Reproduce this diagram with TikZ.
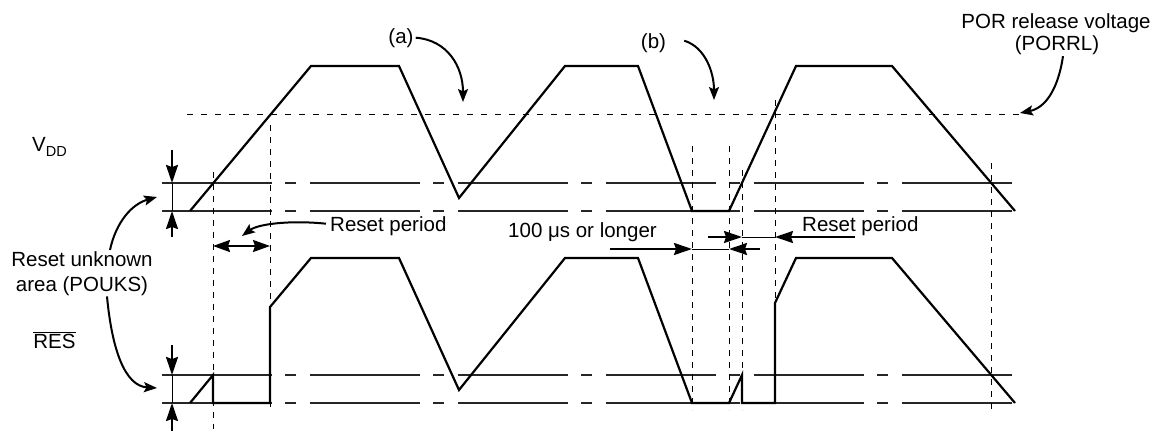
\documentclass[tikz,border=0pt]{standalone}
\usepackage{fontspec}
\setmainfont{Liberation Sans}
\usetikzlibrary{arrows.meta}
\begin{document}
\begin{tikzpicture}[x=1pt,y=-1pt,
  wave/.style={line width=2.2pt, line join=miter},
  chain/.style={line width=1.1pt, black!85, dash pattern=on 110pt off 13pt on 11pt off 14pt},
  vdash/.style={line width=1pt, dash pattern=on 6pt off 6pt},
  pdash/.style={line width=1pt, dash pattern=on 6pt off 8pt},
  bigarr/.style={line width=2pt, -{Stealth[length=18pt,width=12pt,inset=2pt]}},
  bigboth/.style={line width=2pt, {Stealth[length=17pt,width=12pt,inset=2pt]}-{Stealth[length=17pt,width=12pt,inset=2pt]}},
  curv/.style={line width=2pt, -{Stealth[length=13pt,width=10pt,inset=2.5pt]}},
  thinl/.style={line width=1pt},
  lbl/.style={inner sep=0pt, font=\fontsize{20.5}{25}\selectfont}]
\useasboundingbox (0,0) rectangle (1159,431);

% chain lines
\draw[chain] (162,183) -- (1015,183);
\draw[chain] (162,211) -- (1015,211);
\draw[chain] (162,375) -- (1015,375);
\draw[chain] (162,403) -- (1015,403);

% PORRL dashed line
\draw[pdash] (187,114) -- (1020,114);

% vertical dashed lines
\draw[vdash] (213,172) -- (213,429);
\draw[vdash] (270,125) -- (270,408);
\draw[vdash] (692,146) -- (692,410);
\draw[vdash] (729,146) -- (729,410);
\draw[vdash] (742,170) -- (742,410);
\draw[vdash] (775,100) -- (775,403);
\draw[vdash] (991,163) -- (991,410);

% VDD waveform
\draw[wave] (190,211) -- (311,66) -- (399,66) -- (459,198) -- (565,66) -- (638,66)
  -- (692,211) -- (729,211) -- (796,66) -- (892,66) -- (1015,211);

% RES waveform
\draw[wave] (190,403) -- (213,375) -- (213,403) -- (270,403) -- (270,307) -- (311,258)
  -- (399,258) -- (459,390) -- (565,258) -- (638,258) -- (692,403) -- (729,403)
  -- (742,375) -- (742,403) -- (775,403) -- (775,303) -- (796,258) -- (892,258) -- (1015,403);

% left measurement arrows
\coordinate (t1) at (172,183); \coordinate (t2) at (172,211);
\coordinate (t0) at (172,150); \coordinate (t3) at (172,237);
\draw[bigarr] (t0) -- (t1);
\draw[thinl] (t1) -- (t2);
\draw[bigarr] (t3) -- (t2);
\coordinate (b1) at (172,375); \coordinate (b2) at (172,403);
\coordinate (b0) at (172,345); \coordinate (b3) at (172,431);
\draw[bigarr] (b0) -- (b1);
\draw[thinl] (b1) -- (b2);
\draw[bigarr] (b3) -- (b2);

% reset period 1 double arrow
\coordinate (r1a) at (213,246); \coordinate (r1b) at (270,246);
\draw[bigboth] (r1a) -- (r1b);

% 100 us arrows
\coordinate (u0) at (610,249); \coordinate (u1) at (692,249);
\coordinate (u2) at (729,249); \coordinate (u3) at (760,249);
\draw[bigarr] (u0) -- (u1);
\draw[thinl] (u1) -- (u2);
\draw[bigarr] (u3) -- (u2);

% reset period 2 arrows
\coordinate (p0) at (708,237); \coordinate (p1) at (742,237);
\coordinate (p2) at (775,237); \coordinate (p3) at (855,237);
\draw[bigarr] (p0) -- (p1);
\draw[thinl] (p1) -- (p2);
\draw[bigarr] (p3) -- (p2);

% labels
\node[lbl, anchor=base west] (vdd) at (32,151) {V\raisebox{-5pt}{\fontsize{14.5}{15}\selectfont DD}};
\node[lbl, anchor=base] (res) at (54.5,348) {$\overline{\hbox{RES}}$};
\node[lbl, anchor=base] (ru1) at (82,266) {Reset unknown};
\node[lbl, anchor=base] (ru2) at (82,291) {area (POUKS)};
\node[lbl, anchor=base] (a) at (401,43) {(a)};
\node[lbl, anchor=base] (b) at (653.5,48) {(b)};
\node[lbl, anchor=base] (por) at (1056,28.7) {POR release voltage};
\node[lbl, anchor=base] (porrl) at (1057,50.7) {(PORRL)};
\node[lbl, anchor=base west] (rp1) at (330,231) {Reset period};
\node[lbl, anchor=base west] (rp2) at (802,231) {Reset period};
\node[lbl, anchor=base west] (us) at (508,237) {100 μs or longer};

% curved arrows
\coordinate (ruT) at (157,197);
\coordinate (ruB) at (157,388);
\coordinate (aT) at (463,102);
\coordinate (bT) at (714,100);
\coordinate (pT) at (1020,113);
\coordinate (rpT) at (242,236);
\draw[curv] ([xshift=28pt,yshift=1pt]ru1.north) .. controls (116,222) and (132,204) .. (ruT);
\draw[curv] ([xshift=25pt,yshift=-1pt]ru2.south) .. controls (112,350) and (125,386) .. (ruB);
\draw[curv] ([xshift=2pt]a.east) .. controls (447,40) and (463,66) .. (aT);
\draw[curv] ([xshift=18pt,yshift=2pt]b.east) .. controls (705,47) and (714,72) .. (bT);
\draw[curv] ([xshift=6pt,yshift=-1pt]porrl.south) .. controls (1058,90) and (1045,108) .. (pT);
\draw[curv] ([xshift=-4pt,yshift=2pt]rp1.west) .. controls (290,220) and (258,224) .. (rpT);
\end{tikzpicture}
\end{document}
